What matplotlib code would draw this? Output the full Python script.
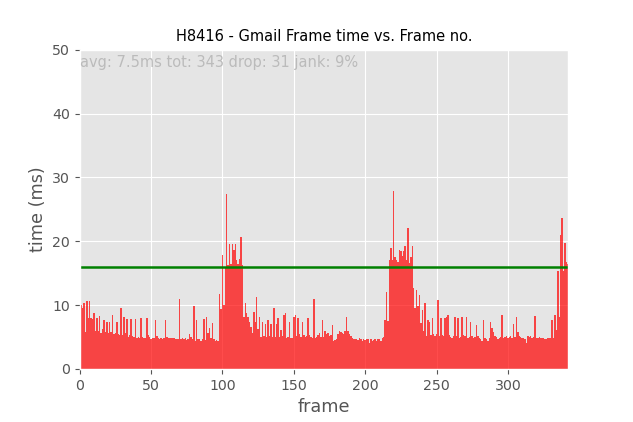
import numpy as np
import matplotlib
matplotlib.use('Agg')
import matplotlib.pyplot as plt

plt.style.use('ggplot')

title = 'H8416 - Gmail Frame time vs. Frame no.'
stats_text = 'avg: 7.5ms tot: 343 drop: 31 jank: 9%'
threshold = 16

# frame times (ms), 10 frames per row
frame_times = [
    7.2, 10.0, 9.6, 10.3, 5.8, 10.6, 8.0, 10.7, 7.9, 7.8,
    8.7, 6.0, 7.9, 6.0, 8.3, 5.6, 6.2, 7.7, 5.8, 7.4,
    5.6, 7.4, 5.7, 8.5, 5.5, 5.6, 7.4, 5.4, 5.3, 9.5,
    5.3, 8.2, 5.6, 7.8, 5.0, 5.3, 7.8, 5.2, 5.0, 7.8,
    4.9, 5.0, 4.9, 7.9, 5.0, 4.9, 4.8, 7.9, 5.3, 5.0,
    4.7, 4.8, 4.9, 7.6, 5.1, 4.9, 4.7, 4.8, 4.7, 4.9,
    7.7, 5.0, 4.8, 4.9, 4.8, 4.8, 4.9, 4.7, 4.6, 4.7,
    10.9, 4.6, 4.8, 4.6, 4.9, 4.5, 4.6, 5.4, 5.0, 4.7,
    9.9, 4.4, 7.7, 4.6, 4.7, 4.4, 4.6, 7.8, 4.5, 8.2,
    5.6, 6.4, 4.9, 7.2, 4.7, 4.4, 4.5, 4.3, 11.8, 9.3,
    17.9, 10.0, 16.0, 27.4, 16.3, 19.6, 16.5, 19.6, 18.6, 19.6,
    17.0, 16.5, 17.2, 20.6, 16.2, 8.2, 10.3, 8.7, 8.2, 7.4,
    6.5, 5.6, 8.9, 7.4, 11.3, 6.3, 8.2, 5.0, 7.4, 5.2,
    7.1, 5.0, 7.6, 5.2, 7.1, 5.0, 9.5, 5.0, 7.1, 7.9,
    5.0, 6.1, 5.2, 8.4, 8.7, 4.8, 5.0, 7.4, 4.8, 4.9,
    8.2, 8.5, 5.2, 7.9, 5.4, 5.0, 7.4, 5.3, 5.0, 5.2,
    7.9, 5.3, 5.0, 4.8, 10.9, 4.8, 5.0, 5.3, 5.6, 5.0,
    7.6, 5.0, 5.9, 5.5, 5.6, 5.1, 5.3, 6.8, 4.4, 4.5,
    4.7, 5.4, 5.9, 5.8, 5.6, 5.5, 5.9, 8.1, 5.9, 5.4,
    5.1, 4.9, 4.7, 4.6, 4.7, 4.5, 4.8, 4.6, 4.4, 4.6,
    4.5, 4.7, 4.6, 4.0, 4.6, 4.4, 4.5, 4.7, 4.3, 4.6,
    4.6, 4.4, 4.8, 5.0, 7.7, 12.1, 7.5, 17.1, 18.9, 17.1,
    27.8, 17.6, 17.1, 16.8, 18.7, 18.4, 17.7, 18.4, 19.2, 17.1,
    22.1, 16.6, 17.5, 19.2, 12.6, 9.5, 12.3, 9.8, 11.6, 7.2,
    9.2, 6.0, 10.3, 5.1, 7.7, 7.4, 5.3, 8.0, 5.5, 5.1,
    5.4, 10.8, 5.1, 8.0, 5.3, 5.1, 8.0, 8.2, 8.5, 5.3,
    5.0, 4.8, 5.2, 8.2, 5.1, 8.0, 4.8, 5.0, 8.1, 5.3,
    5.1, 8.2, 4.8, 5.0, 7.4, 5.1, 4.8, 5.0, 6.9, 5.1,
    4.9, 4.6, 4.3, 7.6, 4.8, 4.6, 4.3, 4.9, 7.4, 6.4,
    5.8, 5.1, 5.0, 4.7, 4.8, 5.0, 8.5, 4.8, 5.0, 5.1,
    4.8, 5.0, 5.1, 4.9, 7.1, 5.0, 8.1, 5.8, 5.1, 5.0,
    4.8, 4.9, 4.6, 4.0, 5.2, 5.0, 5.1, 4.9, 5.0, 8.3,
    4.8, 4.9, 5.0, 4.8, 4.9, 4.8, 4.7, 4.6, 4.9, 4.8,
    4.8, 7.6, 4.8, 8.5, 6.1, 15.4, 8.2, 21.0, 23.6, 15.3,
    19.7, 16.8, 16.5,
]

frames = np.arange(len(frame_times))

fig = plt.figure(figsize=(6.33, 4.22), dpi=100)
ax = fig.add_subplot(111)
fig.subplots_adjust(left=0.126, right=0.897, top=0.882, bottom=0.126)

ax.bar(frames, frame_times, width=1.0, color='red', alpha=0.7, linewidth=0)
ax.axhline(y=threshold, color='green', linewidth=1.8)

ax.set_xlim(0, len(frame_times) - 1)
ax.set_ylim(0, 50)
ax.set_xticks([0, 50, 100, 150, 200, 250, 300])
ax.set_yticks([0, 10, 20, 30, 40, 50])
ax.tick_params(labelsize=10.2)

ax.set_title(title, fontsize=10.5)
ax.set_xlabel('frame', fontsize=12.7)
ax.set_ylabel('time (ms)', fontsize=12.7)
ax.text(0.0, 0.985, stats_text, transform=ax.transAxes, ha='left', va='top',
        fontsize=10.5, color='#bbbbbb')

fig.savefig('out.png', dpi=100)
